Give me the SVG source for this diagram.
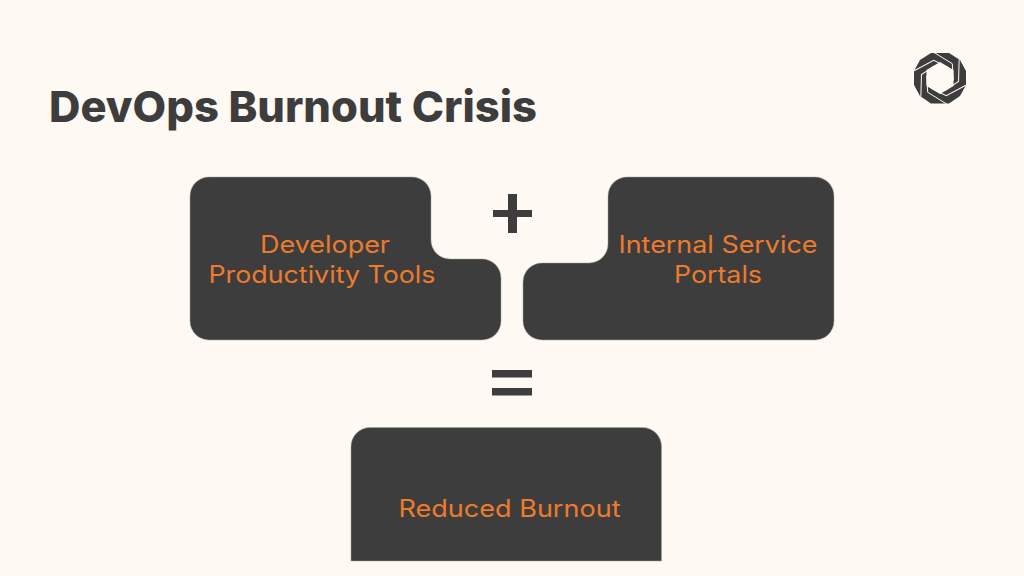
<svg xmlns="http://www.w3.org/2000/svg" width="1024" height="576" viewBox="0 0 1024 576">
  <style>
    .box { fill: #3d3d3d; stroke: #a9a6a2; stroke-width: 0.5; }
    .sign { fill: #3d3d3d; }
    .label { font-family: "Inter", "Noto Sans", "Liberation Sans", sans-serif; font-size: 24px; font-weight: 400; fill: #ee7a2b; text-anchor: middle; }
    .title { font-family: "Inter", "Noto Sans", "Liberation Sans", sans-serif; font-size: 43px; font-weight: 800; fill: #3d3d3d; }
    .gap { fill: none; stroke: #fff9f3; stroke-width: 1; }
  </style>
  <defs>
    <path id="blade-gap" class="gap" d="M933.300 52 L952.300 63.700 L953.300 80.300"/>
  </defs>
  <rect width="1024" height="576" fill="#fff9f3"/>
  <text class="title" x="49" y="122" textLength="488" lengthAdjust="spacingAndGlyphs">DevOps Burnout Crisis</text>
  <g id="logo">
    <path class="sign" fill-rule="evenodd" d="M931 53 L949 53 L960 60 L966 71 L966 85 L960 96 L949 103.500 L931 103.500 L920 96 L914 85 L914 71 L920 60 Z M940 62 L953.500 70 L953.500 86 L940 94 L926.500 86 L926.500 70 Z"/>
    <use href="#blade-gap"/>
    <use href="#blade-gap" transform="rotate(60 940 78)"/>
    <use href="#blade-gap" transform="rotate(120 940 78)"/>
    <use href="#blade-gap" transform="rotate(180 940 78)"/>
    <use href="#blade-gap" transform="rotate(240 940 78)"/>
    <use href="#blade-gap" transform="rotate(300 940 78)"/>
  </g>
  <g id="node-developer-tools">
    <path class="box" d="M209 177 H412 A19 19 0 0 1 431 196 V240 A19 19 0 0 0 450 259 H482 A19 19 0 0 1 501 278 V321 A19 19 0 0 1 482 340 H209 A19 19 0 0 1 190 321 V196 A19 19 0 0 1 209 177 Z"/>
    <text class="label" x="325" y="253" textLength="130" lengthAdjust="spacingAndGlyphs">Developer</text>
    <text class="label" x="322" y="283" textLength="227" lengthAdjust="spacingAndGlyphs">Productivity Tools</text>
  </g>
  <g id="node-service-portals">
    <path class="box" d="M627 177 H815 A19 19 0 0 1 834 196 V321 A19 19 0 0 1 815 340 H542 A19 19 0 0 1 523 321 V282 A19 19 0 0 1 542 263 H589 A19 19 0 0 0 608 244 V196 A19 19 0 0 1 627 177 Z"/>
    <text class="label" x="718" y="253" textLength="199" lengthAdjust="spacingAndGlyphs">Internal Service</text>
    <text class="label" x="718" y="283" textLength="88" lengthAdjust="spacingAndGlyphs">Portals</text>
  </g>
  <g id="node-reduced-burnout">
    <path class="box" d="M370 427.500 H642.500 A19 19 0 0 1 661.500 446.500 V561 H351 V446.500 A19 19 0 0 1 370 427.500 Z"/>
    <text class="label" x="509.500" y="517" textLength="222" lengthAdjust="spacingAndGlyphs">Reduced Burnout</text>
  </g>
  <g id="connectors">
    <path class="sign" d="M508 194 H517 V210 H532 V217 H517 V233 H508 V217 H493 V210 H508 Z"/>
    <rect class="sign" x="492" y="370" width="40" height="7.500"/>
    <rect class="sign" x="492" y="388" width="40" height="7.500"/>
  </g>
</svg>
